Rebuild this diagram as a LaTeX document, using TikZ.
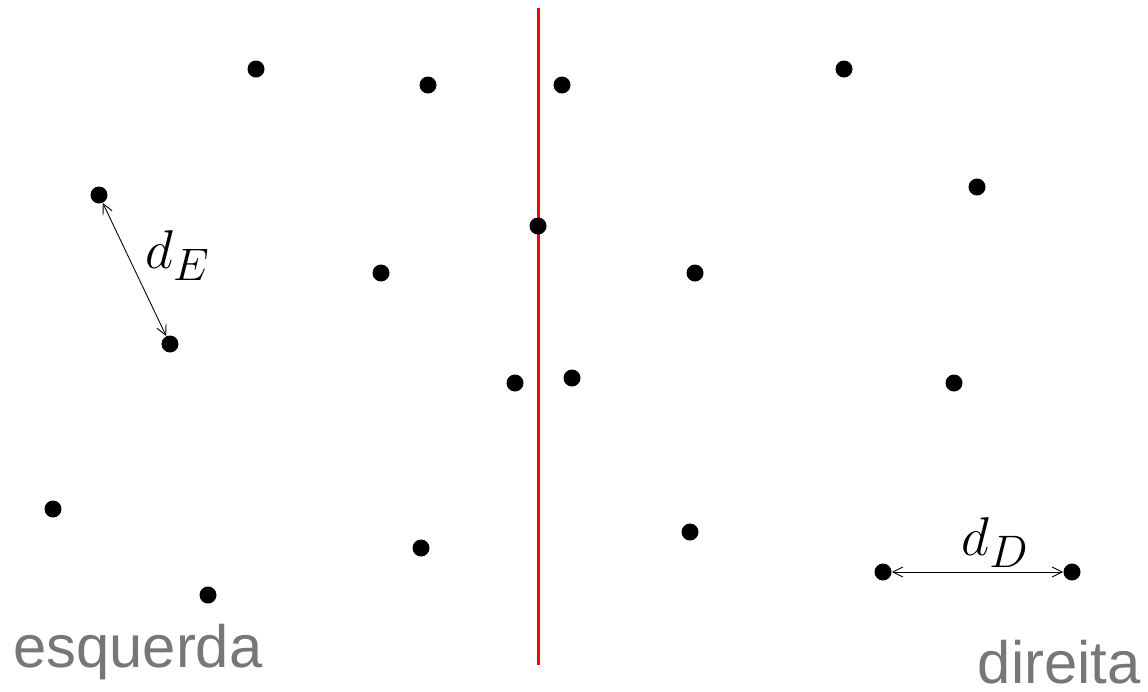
\documentclass[tikz,border=0pt]{standalone}
\usepackage{fontspec}
\newfontfamily\sidefont{Liberation Sans}
\usetikzlibrary{positioning,arrows.meta}
\definecolor{sidegray}{HTML}{777777}
\definecolor{cutred}{HTML}{FF0000}

\begin{document}
\begin{tikzpicture}[
  x=0.02cm,y=-0.02cm,
  dot/.style={circle,fill=black,inner sep=0pt,minimum size=0.34cm},
  dist/.style={{Straight Barb[length=2mm,width=2mm]}-{Straight Barb[length=2mm,width=2mm]},line width=0.5pt},
  dlabel/.style={inner sep=0pt,font=\Huge,scale=1.25},
  side/.style={inner sep=0pt,text=sidegray,font=\sidefont\fontsize{34}{40}\selectfont},
  cut/.style={cutred,line width=1.7pt}
]
\useasboundingbox (0,0) rectangle (1148,691);

% dividing line
\coordinate (top) at (538,8);
\coordinate (bottom) at (538,665);
\draw[cut] (top) -- (bottom);

% points
\foreach \name/\px/\py in {p1/256/69, p2/428/85, p3/562/85, p4/844/69,
    e1/99/195, p6/977/187, p7/538/226, p8/381/273, p9/695/273,
    e2/170/344, p11/515/383, p12/572/378, p13/954/383, p14/53/509,
    p15/421/548, p16/690/532, p17/208/595, r1/883/572, r2/1072/572}
  \node[dot] (\name) at (\px,\py) {};

% distances
\draw[dist] (e1) -- (e2);
\draw[dist] (r1) -- (r2);
\node[dlabel,anchor=base west] (dE) at (145,268) {$d_E$};
\node[dlabel,anchor=base west] (dD) at (961,555) {$d_D$};

% sides
\node[side,anchor=base west] (esq) at (13,667) {esquerda};
\node[side,anchor=base east] (dir) at (1141,683) {direita};
\end{tikzpicture}
\end{document}
